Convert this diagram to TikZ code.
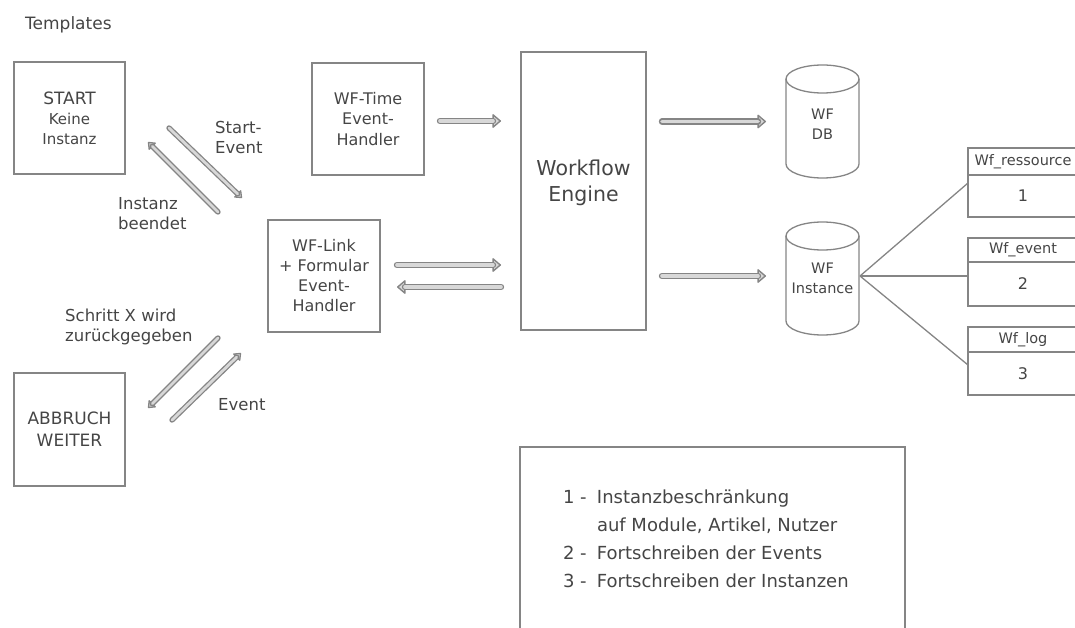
\documentclass[tikz,border=0pt]{standalone}
\usepackage{fontspec}
\setmainfont{DejaVu Sans}
\usetikzlibrary{arrows.meta}
\definecolor{ln}{HTML}{858585}
\definecolor{tx}{HTML}{454545}
\definecolor{fillg}{HTML}{D8D8D8}
\begin{document}
\begin{tikzpicture}[x=1pt,y=-1pt,
  box/.style={draw=ln,line width=1.4pt,text=tx,align=center,inner sep=0pt,outer sep=0pt},
  headarr/.style={draw=ln,line width=1.4pt,line cap=round,-{Triangle[open,fill=fillg,length=9pt,width=15pt,round]}},
  shaft/.style={draw=ln,line width=1.4pt,double=fillg,double distance=3.6pt,line cap=round},
  dheadarr/.style={draw=ln,line width=1.3pt,line cap=round,-{Triangle[open,fill=fillg,length=7pt,width=11pt,round]}},
  dshaft/.style={draw=ln,line width=1.3pt,double=fillg,double distance=2.8pt,line cap=round},
  lbl/.style={text=tx,align=left,anchor=west,inner sep=0pt,font=\fontsize{16.5}{20}\selectfont},
  conn/.style={draw=ln,line width=1.3pt},
  plain/.style={text=tx,inner sep=0pt,outer sep=0pt}]
\useasboundingbox (0,0) rectangle (1075,628);
\clip (0,0) rectangle (1075,628);

% title
\node[lbl,font=\fontsize{17}{20}\selectfont] (tpl) at (25,25) {Templates};

% left boxes
\node[box,minimum width=111pt,minimum height=112pt,font=\fontsize{17}{20}\selectfont] (start) at (69.5,118)
  {START\\{\fontsize{15}{20}\selectfont Keine}\\{\fontsize{15}{20}\selectfont Instanz}};
\node[box,minimum width=111pt,minimum height=113pt,font=\fontsize{17}{22}\selectfont] (abbr) at (69.5,429.5)
  {ABBRUCH\\WEITER};

% handlers
\node[box,minimum width=112pt,minimum height=112pt,font=\fontsize{16}{20.5}\selectfont] (wftime) at (368,119)
  {WF-Time\\Event-\\Handler};
\node[box,minimum width=112pt,minimum height=112pt,font=\fontsize{16}{20}\selectfont] (wflink) at (324,276)
  {WF-Link\\+ Formular\\Event-\\Handler};

% engine
\node[box,minimum width=125pt,minimum height=278pt,font=\fontsize{20.5}{26}\selectfont] (we) at (583.5,191)
  {Workflow\\Engine\\[-6pt]};

% cylinders
\draw[conn] (822.5,79) ellipse[x radius=36.5,y radius=14];
\draw[conn] (786,79) -- (786,164)
  .. controls (786,171.7) and (802.3,178) .. (822.5,178)
  .. controls (842.7,178) and (859,171.7) .. (859,164) -- (859,79);
\node[plain,minimum width=73pt,minimum height=113pt,align=center,font=\fontsize{14.5}{20}\selectfont] (db) at (822.5,121.5)
  {\\[-4pt]WF\\DB};

\draw[conn] (822.5,236) ellipse[x radius=36.5,y radius=14];
\draw[conn] (786,236) -- (786,321)
  .. controls (786,328.7) and (802.3,335) .. (822.5,335)
  .. controls (842.7,335) and (859,328.7) .. (859,321) -- (859,236);
\node[plain,minimum width=73pt,minimum height=113pt,align=center,font=\fontsize{14.5}{20}\selectfont] (inst) at (822.5,278.5)
  {WF\\Instance};

% tables
\node[box,minimum width=110pt,minimum height=27pt,font=\fontsize{14.5}{17}\selectfont] (t1h) at (1023,161.5) {Wf\_ressource};
\node[box,minimum width=110pt,minimum height=42pt,font=\fontsize{16}{18}\selectfont,anchor=north] (t1b) at (t1h.south) {1};
\node[box,minimum width=110pt,minimum height=24pt,font=\fontsize{14.5}{17}\selectfont] (t2h) at (1023,250) {Wf\_event};
\node[box,minimum width=110pt,minimum height=44pt,font=\fontsize{16}{18}\selectfont,anchor=north] (t2b) at (t2h.south) {2};
\node[box,minimum width=110pt,minimum height=25pt,font=\fontsize{14.5}{17}\selectfont] (t3h) at (1023,339.5) {Wf\_log};
\node[box,minimum width=110pt,minimum height=43pt,font=\fontsize{16}{18}\selectfont,anchor=north] (t3b) at (t3h.south) {3};

\coordinate (ic) at (860,276);
\draw[conn] (ic) -- ([yshift=13pt]t1b.west);
\draw[conn] (ic) -- ([yshift=8pt]t2b.west);
\draw[conn] (ic) -- ([yshift=8.5pt]t3b.west);

% legend
\node[draw=ln,line width=1.4pt,minimum width=385pt,minimum height=203pt,inner sep=0pt] (leg) at (712.5,548.5) {};
\node[plain,align=left,anchor=north west,font=\fontsize{18}{28}\selectfont] (legtxt) at (563,490)
  {\makebox[34pt][l]{1 -}Instanzbeschränkung\\
   \hspace*{34pt}auf Module, Artikel, Nutzer\\
   \makebox[34pt][l]{2 -}Fortschreiben der Events\\
   \makebox[34pt][l]{3 -}Fortschreiben der Instanzen};

% horizontal arrows: tip pass, then shaft pass
\coordinate (h1a) at ([yshift=-2pt]wftime.east);  \coordinate (h1b) at ([yshift=-2pt]wftime.east -| we.west);
\coordinate (h2a) at ([yshift=11pt]wflink.east);  \coordinate (h2b) at ([yshift=11pt]wflink.east -| we.west);
\coordinate (h3a) at ([yshift=-11pt]wflink.east -| we.west);  \coordinate (h3b) at ([yshift=-11pt]wflink.east);
\coordinate (h4a) at (db.west -| we.east);  \coordinate (h4b) at (db.west);
\coordinate (h5a) at ([yshift=2.5pt]inst.west -| we.east);  \coordinate (h5b) at ([yshift=2.5pt]inst.west);
\draw[headarr,shorten <=16pt,shorten >=20pt] (h1a) -- (h1b);
\draw[shaft,shorten <=16pt,shorten >=28pt] (h1a) -- (h1b);
\draw[headarr,shorten <=17pt,shorten >=20pt] (h2a) -- (h2b);
\draw[shaft,shorten <=17pt,shorten >=28pt] (h2a) -- (h2b);
\draw[headarr,shorten <=20pt,shorten >=17pt] (h3a) -- (h3b);
\draw[shaft,shorten <=20pt,shorten >=25pt] (h3a) -- (h3b);
\draw[headarr,shorten <=16pt,shorten >=20pt] (h4a) -- (h4b);
\draw[shaft,shorten <=16pt,shorten >=28pt] (h4a) -- (h4b);
\draw[headarr,shorten <=16pt,shorten >=20pt] (h5a) -- (h5b);
\draw[shaft,shorten <=16pt,shorten >=28pt] (h5a) -- (h5b);

% diagonal arrows
\coordinate (d1a) at (169,128);  \coordinate (d1b) at (242,198);
\coordinate (d2a) at (218,212);  \coordinate (d2b) at (148,142);
\coordinate (d3a) at (218,338);  \coordinate (d3b) at (148,408);
\coordinate (d4a) at (172,420);  \coordinate (d4b) at (241,353);
\foreach \p in {1,2,3,4}{
  \draw[dheadarr] (d\p a) -- (d\p b);
  \draw[dshaft,shorten >=6pt] (d\p a) -- (d\p b);
}

% labels
\node[lbl] (lse) at (215,137) {Start-\\Event};
\node[lbl] (lib) at (118,213.5) {Instanz\\beendet};
\node[lbl] (lsx) at (65,327) {Schritt X wird\\zurückgegeben};
\node[lbl] (lev) at (218,405) {Event};
\end{tikzpicture}
\end{document}
